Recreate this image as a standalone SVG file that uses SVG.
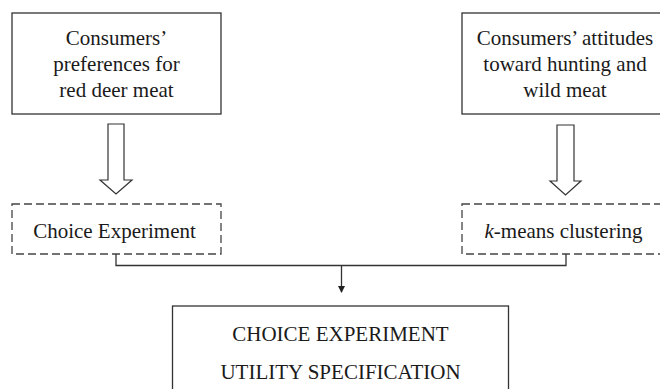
<svg xmlns="http://www.w3.org/2000/svg" width="660" height="389" viewBox="0 0 660 389">
<style>
.box{fill:#fff;stroke:#333;stroke-width:1.3}
.dash{fill:#fff;stroke:#444;stroke-width:1.3;stroke-dasharray:8 4}
.hollow{fill:#fff;stroke:#333;stroke-width:1.2}
.conn{fill:none;stroke:#333;stroke-width:1.3}
text{font-family:"Liberation Serif","Times New Roman",serif;font-size:21px;fill:#1a1a1a;text-anchor:middle}
</style>
<defs>
<marker id="ah" markerWidth="8" markerHeight="8" refX="6" refY="3.5" orient="auto" markerUnits="userSpaceOnUse">
<path d="M0,0 L7,3.5 L0,7 Z" fill="#222"/>
</marker>
</defs>
<rect width="660" height="389" fill="#fff"/>
<g id="pref">
<rect class="box" x="12" y="13" width="209" height="101"/>
<text x="116.5" y="45">Consumers’</text>
<text x="116.5" y="71">preferences for</text>
<text x="116.5" y="97">red deer meat</text>
</g>
<g id="attitudes">
<rect class="box" x="462" y="13" width="209" height="101"/>
<text x="565" y="45">Consumers’ attitudes</text>
<text x="565" y="71">toward hunting and</text>
<text x="565" y="97">wild meat</text>
</g>
<g id="arrow-left">
<polygon class="hollow" points="108,124 124,124 124,180 132,180 116,194 100,180 108,180"/>
</g>
<g id="arrow-right">
<polygon class="hollow" points="557,125 574,125 574,181 581,181 565.5,195 550,181 557,181"/>
</g>
<g id="ce">
<rect class="dash" x="12" y="204" width="209" height="50"/>
<text x="114.5" y="238">Choice Experiment</text>
</g>
<g id="kmeans">
<rect class="dash" x="462" y="204" width="209" height="50"/>
<text x="563.5" y="238"><tspan font-style="italic">k</tspan>-means clustering</text>
</g>
<g id="connectors">
<polyline class="conn" points="116,254 116,265.5 566,265.5 566,254"/>
<line class="conn" x1="341.5" y1="265.5" x2="341.5" y2="292" marker-end="url(#ah)"/>
</g>
<g id="utility">
<rect class="box" x="172.5" y="306" width="336" height="100"/>
<text x="340.5" y="341">CHOICE EXPERIMENT</text>
<text x="340.5" y="379">UTILITY SPECIFICATION</text>
</g>
</svg>
